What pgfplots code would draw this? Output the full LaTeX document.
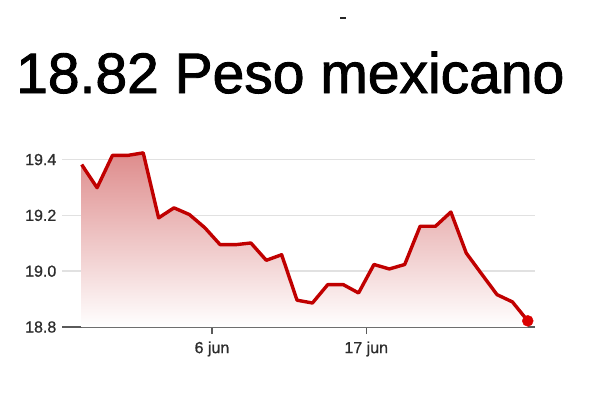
\documentclass[border=0pt]{standalone}
\usepackage{fontspec}
\setmainfont{Liberation Sans}
\newfontfamily\titlefont[FakeBold=1.6]{Liberation Sans}
\newfontfamily\tickfont[FakeBold=0.8]{Liberation Sans}
\usepackage{pgfplots}
\pgfplotsset{compat=1.18}
\definecolor{linered}{RGB}{192,0,0}
\definecolor{dotred}{RGB}{218,0,0}
\definecolor{fillpink}{RGB}{222,140,140}
\definecolor{axgray}{RGB}{90,90,90}
\definecolor{gridgray}{RGB}{225,225,225}
\definecolor{labgray}{RGB}{45,45,45}
\begin{document}
\begin{tikzpicture}[x=1pt,y=1pt]
\path[use as bounding box] (0,0) rectangle (600,400);
\fill[black!85] (340,381) rectangle (346,383);
\node[anchor=base west, inner sep=0pt, font=\titlefont\fontsize{57}{60}\selectfont] at (16,307) {18.82 Peso mexicano};
\begin{axis}[
  at={(62pt,73pt)}, anchor=south west,
  scale only axis, width=473pt, height=181.4pt,
  xmin=-1.28, xmax=29.47, ymin=18.8, ymax=19.45,
  axis x line=bottom, axis y line=left,
  x axis line style={axgray, line width=1.8pt, -},
  y axis line style={draw=none},
  ytick={18.8,19.0,19.2,19.4},
  yticklabels={18.8,19.0,19.2,19.4},
  ytick style={draw=none},
  ymajorgrids, grid style={gridgray, line width=1.4pt},
  xtick={8.47,18.5}, xticklabels={6 jun,17 jun},
  xtick style={axgray, line width=1.5pt},
  tick align=outside, major tick length=7pt,
  yticklabel style={anchor=east, inner sep=0pt, xshift=1.5pt, labgray, font=\tickfont\fontsize{16}{16}\selectfont},
  xticklabel style={labgray, font=\tickfont\fontsize{16}{16}\selectfont, yshift=-4pt},
  clip=false,
]
\addplot[draw=none, shade, top color=fillpink, middle color=red!8!white, bottom color=white] coordinates {
(0,19.382)(1,19.299)(2,19.415)(3,19.415)(4,19.424)(5,19.191)(6,19.227)(7,19.203)(8,19.156)(9,19.095)
(10,19.095)(11,19.101)(12,19.039)(13,19.059)(14,18.896)(15,18.886)(16,18.952)(17,18.952)(18,18.922)(19,19.024)
(20,19.008)(21,19.024)(22,19.161)(23,19.161)(24,19.212)(25,19.065)(26,18.99)(27,18.916)(28,18.89)(29,18.822)
} \closedcycle;
\addplot[linered, line width=3.4pt, line join=round, mark=none] coordinates {
(0,19.382)(1,19.299)(2,19.415)(3,19.415)(4,19.424)(5,19.191)(6,19.227)(7,19.203)(8,19.156)(9,19.095)
(10,19.095)(11,19.101)(12,19.039)(13,19.059)(14,18.896)(15,18.886)(16,18.952)(17,18.952)(18,18.922)(19,19.024)
(20,19.008)(21,19.024)(22,19.161)(23,19.161)(24,19.212)(25,19.065)(26,18.99)(27,18.916)(28,18.89)(29,18.822)
};
\addplot[only marks, mark=*, mark size=5.5pt, mark options={fill=dotred, draw=dotred}] coordinates {(29,18.822)};
\end{axis}
\end{tikzpicture}
\end{document}
